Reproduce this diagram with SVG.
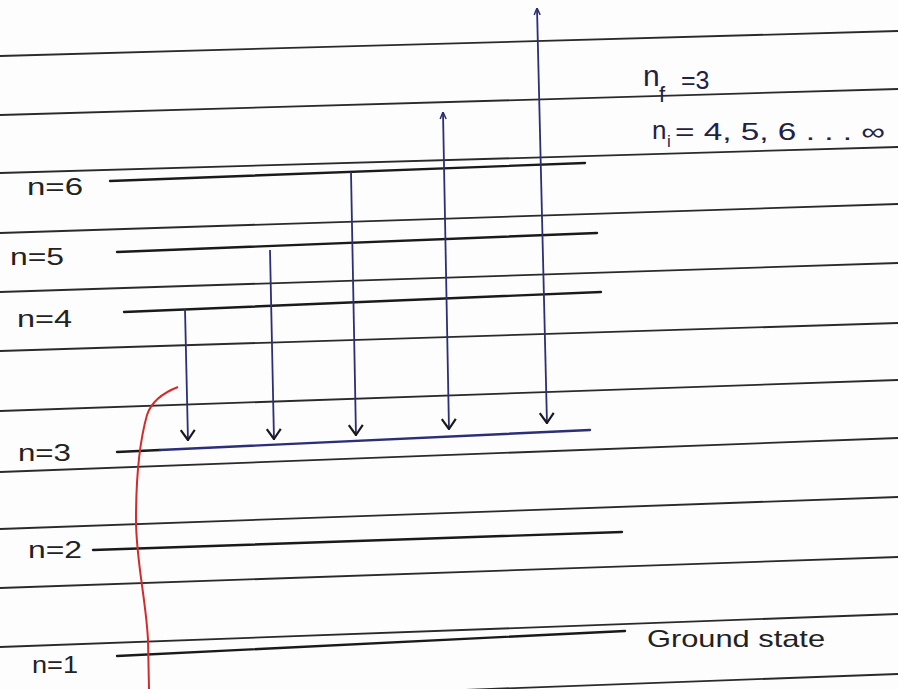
<svg xmlns="http://www.w3.org/2000/svg" width="898" height="689" viewBox="0 0 898 689">
  <style>
    .rule { stroke: #2a2a2a; stroke-width: 1.8; fill: none; }
    .level { stroke: #1a1a1a; stroke-width: 2.4; fill: none; stroke-linecap: round; }
    .lbl { font-family: "Liberation Sans", "DejaVu Sans", sans-serif; font-size: 24px; fill: #222; }
    .note { font-family: "Liberation Sans", "DejaVu Sans", sans-serif; fill: #1f2244; }
    .arrow { stroke: #2c2f78; stroke-width: 1.8; fill: none; }
  </style>
  <defs>
    <marker id="vhead" viewBox="0 0 12 18" refX="12" refY="9" markerWidth="12" markerHeight="18" markerUnits="userSpaceOnUse" orient="auto">
      <path d="M1,2 L11,9 L1,16" fill="none" stroke="#1a1a1a" stroke-width="2.2" stroke-linejoin="round"/>
    </marker>
    <marker id="uphead" viewBox="0 0 8 8" refX="8" refY="4" markerWidth="8" markerHeight="8" markerUnits="userSpaceOnUse" orient="auto-start-reverse">
      <path d="M1,1 L8,4 L1,7" fill="none" stroke="#2c2f78" stroke-width="1.5"/>
    </marker>
  </defs>
  <rect x="0" y="0" width="898" height="689" fill="#fdfdfd"/>

  <g id="ruled-lines">
    <line class="rule" x1="0" y1="56" x2="898" y2="31"/>
    <line class="rule" x1="0" y1="115" x2="898" y2="89"/>
    <line class="rule" x1="0" y1="173" x2="898" y2="147"/>
    <line class="rule" x1="0" y1="233" x2="898" y2="204"/>
    <line class="rule" x1="0" y1="292" x2="898" y2="263"/>
    <line class="rule" x1="0" y1="351" x2="898" y2="323"/>
    <line class="rule" x1="0" y1="411" x2="898" y2="380"/>
    <line class="rule" x1="0" y1="472" x2="898" y2="438"/>
    <line class="rule" x1="0" y1="529" x2="898" y2="497"/>
    <line class="rule" x1="0" y1="588" x2="898" y2="557"/>
    <line class="rule" x1="0" y1="647" x2="898" y2="614"/>
    <line class="rule" x1="0" y1="707" x2="898" y2="674"/>
  </g>

  <g id="level-6">
    <line class="level" x1="110" y1="181" x2="585" y2="163"/>
    <text class="lbl" x="27" y="195" textLength="56" lengthAdjust="spacingAndGlyphs">n=6</text>
  </g>
  <g id="level-5">
    <line class="level" x1="117" y1="252" x2="597" y2="233"/>
    <text class="lbl" x="10" y="265" textLength="54" lengthAdjust="spacingAndGlyphs">n=5</text>
  </g>
  <g id="level-4">
    <line class="level" x1="124" y1="312" x2="601" y2="292"/>
    <text class="lbl" x="17" y="327" textLength="55" lengthAdjust="spacingAndGlyphs">n=4</text>
  </g>
  <g id="level-3">
    <line class="level" x1="117" y1="452" x2="160" y2="450"/>
    <line class="level" x1="160" y1="450" x2="590" y2="430" style="stroke:#2c2f78"/>
    <text class="lbl" x="18" y="461" textLength="53" lengthAdjust="spacingAndGlyphs">n=3</text>
  </g>
  <g id="level-2">
    <line class="level" x1="93" y1="550" x2="622" y2="532"/>
    <text class="lbl" x="28" y="558" textLength="54" lengthAdjust="spacingAndGlyphs">n=2</text>
  </g>
  <g id="level-1">
    <line class="level" x1="117" y1="656" x2="625" y2="631"/>
    <text class="lbl" x="32" y="673" textLength="46" lengthAdjust="spacingAndGlyphs">n=1</text>
    <text class="lbl" x="647" y="647" textLength="178" lengthAdjust="spacingAndGlyphs">Ground state</text>
  </g>

  <g id="quantum-numbers">
    <text class="note" x="643" y="86" style="font-size:30px">n</text>
    <text class="note" x="659" y="102" style="font-size:22px">f</text>
    <text class="note" x="681" y="89" style="font-size:25px">=3</text>
    <text class="note" x="652" y="139" style="font-size:26px">n</text>
    <text class="note" x="667" y="147" style="font-size:17px">i</text>
    <text class="note" x="675" y="140" style="font-size:24px" textLength="210" lengthAdjust="spacingAndGlyphs">= 4, 5, 6 . . . ∞</text>
  </g>

  <g id="connectors">
    <path class="arrow" d="M185,309 L188,441" marker-end="url(#vhead)"/>
    <path class="arrow" d="M270,250 L274,440" marker-end="url(#vhead)"/>
    <path class="arrow" d="M351,172 L356,436" marker-end="url(#vhead)"/>
    <path class="arrow" d="M443,112 L449,430" marker-start="url(#uphead)" marker-end="url(#vhead)"/>
    <path class="arrow" d="M537,8 L547,424" marker-start="url(#uphead)" marker-end="url(#vhead)"/>
  </g>

  <g id="brace">
    <path d="M178,387 C165,392 152,400 147,415 C140,440 136,480 136,520 C136,560 146,600 148,640 L149,689" fill="none" stroke="#d42a2a" stroke-width="2"/>
  </g>
</svg>
